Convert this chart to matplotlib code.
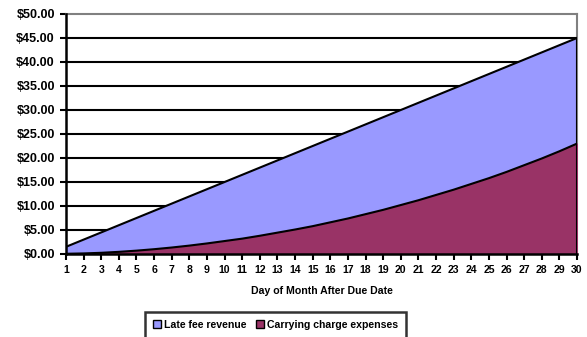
import matplotlib.pyplot as plt
from matplotlib.patches import Patch

plt.rcParams['font.family'] = ['Liberation Sans', 'DejaVu Sans']

# Data
days = list(range(1, 31))
late_fee_revenue = [1.5, 3.0, 4.5, 6.0, 7.5, 9.0, 10.5, 12.0, 13.5, 15.0,
                    16.5, 18.0, 19.5, 21.0, 22.5, 24.0, 25.5, 27.0, 28.5, 30.0,
                    31.5, 33.0, 34.5, 36.0, 37.5, 39.0, 40.5, 42.0, 43.5, 45.0]
carrying_charges = [0.05, 0.12, 0.25, 0.45, 0.7, 1.0, 1.35, 1.75, 2.2, 2.7,
                    3.2, 3.8, 4.45, 5.1, 5.8, 6.6, 7.4, 8.3, 9.2, 10.2,
                    11.2, 12.3, 13.4, 14.6, 15.8, 17.1, 18.5, 19.9, 21.4, 23.0]
yticks = [0, 5, 10, 15, 20, 25, 30, 35, 40, 45, 50]

BLUE = '#9999FF'
MAROON = '#993366'

fig = plt.figure(figsize=(5.87, 3.37), dpi=100)
ax = fig.add_axes([66 / 587, 1 - 254 / 337, (577 - 66) / 587, (254 - 14) / 337])

# overlapping areas (not stacked), Excel style
ax.fill_between(days, 0, late_fee_revenue, color=BLUE, zorder=2)
ax.plot(days, late_fee_revenue, color='black', lw=1.5, zorder=3)
ax.fill_between(days, 0, carrying_charges, color=MAROON, zorder=4)
ax.plot(days, carrying_charges, color='black', lw=1.5, zorder=5)
ax.plot([days[-1], days[-1]], [0, late_fee_revenue[-1]], color='black', lw=1.5, zorder=5)

ax.set_xlim(days[0], days[-1])
ax.set_ylim(0, 50)
ax.set_yticks(yticks)
ax.set_yticklabels([f'${v:.2f}' for v in yticks], fontsize=9, fontweight='bold')
ax.set_xticks(days)
ax.set_xticklabels([str(d) for d in days], fontsize=7.6, fontweight='bold')
ax.tick_params(axis='both', direction='out', length=4, width=1.5, color='black', pad=4)

for v in yticks[1:-1]:
    ax.axhline(v, color='black', lw=1.5, zorder=1)

ax.spines['left'].set_linewidth(1.8)
ax.spines['bottom'].set_linewidth(1.8)
ax.spines['left'].set_zorder(6)
ax.spines['bottom'].set_zorder(6)
ax.spines['top'].set_color('#808080')
ax.spines['right'].set_color('#808080')
ax.spines['top'].set_linewidth(1.5)
ax.spines['right'].set_linewidth(1.5)

ax.set_xlabel('Day of Month After Due Date', fontsize=7.6, fontweight='bold', labelpad=8)

handles = [Patch(facecolor=BLUE, edgecolor='black', label='Late fee revenue'),
           Patch(facecolor=MAROON, edgecolor='black', label='Carrying charge expenses')]
leg = fig.legend(handles=handles, loc='upper left', bbox_to_anchor=(145 / 587, 1 - 312 / 337),
                 ncol=2, frameon=True, fancybox=False,
                 prop={'weight': 'bold', 'size': 7.6},
                 handlelength=0.75, handleheight=0.75, handletextpad=0.3,
                 columnspacing=0.9, borderpad=0.75, borderaxespad=0)
leg.get_frame().set_edgecolor('black')
leg.get_frame().set_linewidth(1.8)

fig.savefig('out.png', dpi=100)
